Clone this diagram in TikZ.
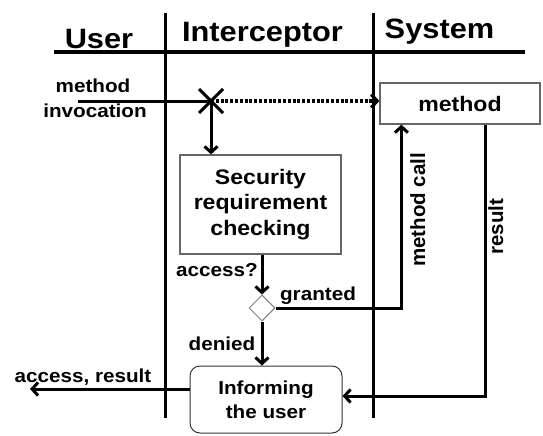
\documentclass[tikz,border=0pt]{standalone}
\usepackage{fontspec}
\setmainfont{Liberation Sans}
\usetikzlibrary{shapes.geometric,arrows.meta,calc}
\newcommand\X[1]{\scalebox{1.1}[1]{#1}}
\begin{document}
\begin{tikzpicture}[x=1pt,y=-1pt,
  lane/.style={line width=3pt},
  conn/.style={line width=3pt},
  arr/.style={line width=3pt,-{Straight Barb[length=6pt,width=13pt]}},
  dotarr/.style={line width=3.2pt,dash pattern=on 3pt off 1.8pt,-{Straight Barb[length=6pt,width=13pt]}},
  box/.style={draw=black!60, line width=1.2pt, fill=white, align=center, inner sep=0pt,
    font=\bfseries\fontsize{21}{25.5}\selectfont},
  hdr/.style={font=\bfseries\fontsize{28}{30}\selectfont, anchor=base},
  lbl/.style={font=\bfseries\fontsize{18.8}{24}\selectfont, anchor=base},
  rlbl/.style={font=\bfseries\fontsize{20.5}{24}\selectfont, anchor=base, rotate=90}]
\useasboundingbox (0,0) rectangle (543,436);
% header and swimlanes
\draw[line width=3.5pt] (54,52) -- (525,52);
\draw[lane] (165,13) -- (165,418);
\draw[lane] (373,13) -- (373,418);
\node[hdr] (huser) at (99,48.5) {\X{User}};
\node[hdr] (hint) at (262.5,41.5) {\X{Interceptor}};
\node[hdr] (hsys) at (439.5,39) {\X{System}};
% nodes
\node[box, minimum width=160pt, minimum height=41pt] (method) at (460,103.5) {\X{method}};
\node[box, minimum width=161pt, minimum height=99pt] (sec) at (260.5,204.5) {\X{Security}\\\X{requirement}\\\X{checking}};
\node[diamond, draw=black!50, line width=1pt, fill=white, minimum width=26pt, minimum height=26pt, inner sep=0pt] (dia) at (262,308) {};
\node[box, draw=black!80, line width=1pt, rounded corners=10pt, minimum width=152pt, minimum height=67pt,
  font=\bfseries\fontsize{18.8}{24}\selectfont] (inf) at (266,399.5) {\X{Informing}\\\X{the user}};
\coordinate (mistart) at (78,101);
\coordinate (x) at (211,101);
\coordinate (out) at (30,389);
% cross
\draw[conn] ($(x)+(-12,-12)$) -- ($(x)+(12,12)$);
\draw[conn] ($(x)+(-12,12)$) -- ($(x)+(12,-12)$);
% connectors
\draw[conn] (mistart) -- (x);
\draw[dotarr] (x) -- (x -| method.west);
\draw[arr] (x) -- (x |- sec.north);
\draw[arr] (dia |- sec.south) -- (dia.north);
\draw[arr] (dia.east) -| ($(method.south west)+(22,0)$);
\draw[arr] (dia.south) -- (dia |- inf.north);
\draw[arr] ($(method.south west)+(106,0)$) |- ([yshift=3.5pt]inf.east);
\draw[arr] ([yshift=10.5pt]inf.west) -- (out);
% labels
\node[lbl] (lm) at (93,92.3) {\X{method}};
\node[lbl] (li) at (95,117.3) {\X{invocation}};
\node[lbl] (lacc) at (217,276) {\X{access?}};
\node[lbl] (lgr) at (318,300) {\X{granted}};
\node[lbl] (lden) at (222,350) {\X{denied}};
\node[lbl] (lar) at (83,382) {\X{access, result}};
\node[rlbl] (lmc) at (425,210) {method call};
\node[rlbl] (lres) at (503,226.5) {result};
\end{tikzpicture}
\end{document}
